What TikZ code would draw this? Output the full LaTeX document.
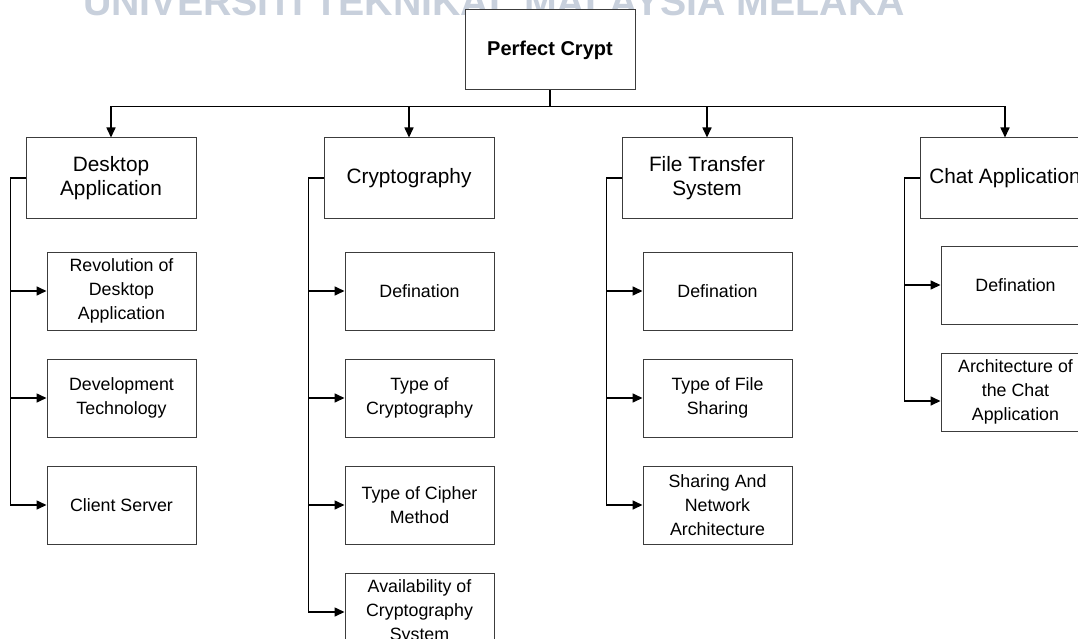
\documentclass[tikz,border=0pt]{standalone}
\usepackage{fontspec}
\setmainfont{Liberation Sans}
\usetikzlibrary{positioning,arrows.meta}
\definecolor{watermark}{RGB}{200,208,220}
\definecolor{boxline}{RGB}{60,60,60}
\tikzset{
  rootbox/.style={draw=boxline, line width=1pt, rectangle, minimum width=170pt, minimum height=80pt, font=\bfseries\fontsize{20}{24}\selectfont},
  topicbox/.style={draw=boxline, line width=1pt, rectangle, minimum width=170pt, minimum height=80pt, align=center, font=\fontsize{20.8}{24}\selectfont},
  subbox/.style={draw=boxline, line width=1pt, rectangle, minimum width=149pt, minimum height=78pt, align=center, font=\fontsize{17.8}{24}\selectfont},
  link/.style={line width=1.6pt},
  arrowlink/.style={line width=1.6pt, -{Triangle[length=10pt,width=9pt]}}
}
\begin{document}
\begin{tikzpicture}[x=1pt, y=-1pt]
    \useasboundingbox (0,0) rectangle (1078,639);
    \clip (0,0) rectangle (1078,639);
    \node[text=watermark, font=\bfseries\fontsize{39.3}{39}\selectfont, anchor=base](wmark) at (494,16){UNIVERSITI TEKNIKAL MALAYSIA MELAKA};
    \node[rootbox, fill=white](root) at (550,50){Perfect Crypt};
    \node[topicbox](desktop) at (111,178){Desktop\\Application};
    \node[topicbox, right=127pt of desktop](crypto){Cryptography};
    \node[topicbox, right=127pt of crypto](filesys){File Transfer\\System};
    \node[topicbox, right=127pt of filesys](chat){Chat Application};
    \draw[link](root.south)--++(0,16)coordinate(bus);
    \draw[arrowlink](bus)-|(desktop.north);
    \draw[arrowlink](bus)-|(crypto.north);
    \draw[arrowlink](bus)-|(filesys.north);
    \draw[arrowlink](bus)-|(chat.north);
    \node[subbox, below=33pt of desktop.south east, anchor=north east](revdesk){Revolution of\\Desktop\\Application};
    \node[subbox, below=28pt of revdesk](devtech){Development\\Technology};
    \node[subbox, below=28pt of devtech](clientsrv){Client Server};
    \draw[arrowlink](desktop.west)--++(-15,0)|-(clientsrv.west);
    \draw[arrowlink]([xshift=-36pt]revdesk.west)--(revdesk.west);
    \draw[arrowlink]([xshift=-36pt]devtech.west)--(devtech.west);
    \node[subbox, below=33pt of crypto.south east, anchor=north east](cryptodef){Defination};
    \node[subbox, below=28pt of cryptodef](cryptotype){Type of\\Cryptography};
    \node[subbox, below=28pt of cryptotype](ciphermethod){Type of Cipher\\Method};
    \node[subbox, below=28pt of ciphermethod](cryptoavail){Availability of\\Cryptography\\System};
    \draw[arrowlink](crypto.west)--++(-15,0)|-(cryptoavail.west);
    \draw[arrowlink]([xshift=-36pt]cryptodef.west)--(cryptodef.west);
    \draw[arrowlink]([xshift=-36pt]cryptotype.west)--(cryptotype.west);
    \draw[arrowlink]([xshift=-36pt]ciphermethod.west)--(ciphermethod.west);
    \node[subbox, below=33pt of filesys.south east, anchor=north east](filedef){Defination};
    \node[subbox, below=28pt of filedef](filetype){Type of File\\Sharing};
    \node[subbox, below=28pt of filetype](sharenet){Sharing And\\Network\\Architecture};
    \draw[arrowlink](filesys.west)--++(-15,0)|-(sharenet.west);
    \draw[arrowlink]([xshift=-36pt]filedef.west)--(filedef.west);
    \draw[arrowlink]([xshift=-36pt]filetype.west)--(filetype.west);
    \node[subbox, below=27pt of chat.south east, anchor=north east](chatdef){Defination};
    \node[subbox, below=28pt of chatdef](chatarch){Architecture of\\the Chat\\Application};
    \draw[arrowlink](chat.west)--++(-15,0)|-([yshift=-9pt]chatarch.west);
    \draw[arrowlink]([xshift=-36pt]chatdef.west)--(chatdef.west);
\end{tikzpicture}
\end{document}
